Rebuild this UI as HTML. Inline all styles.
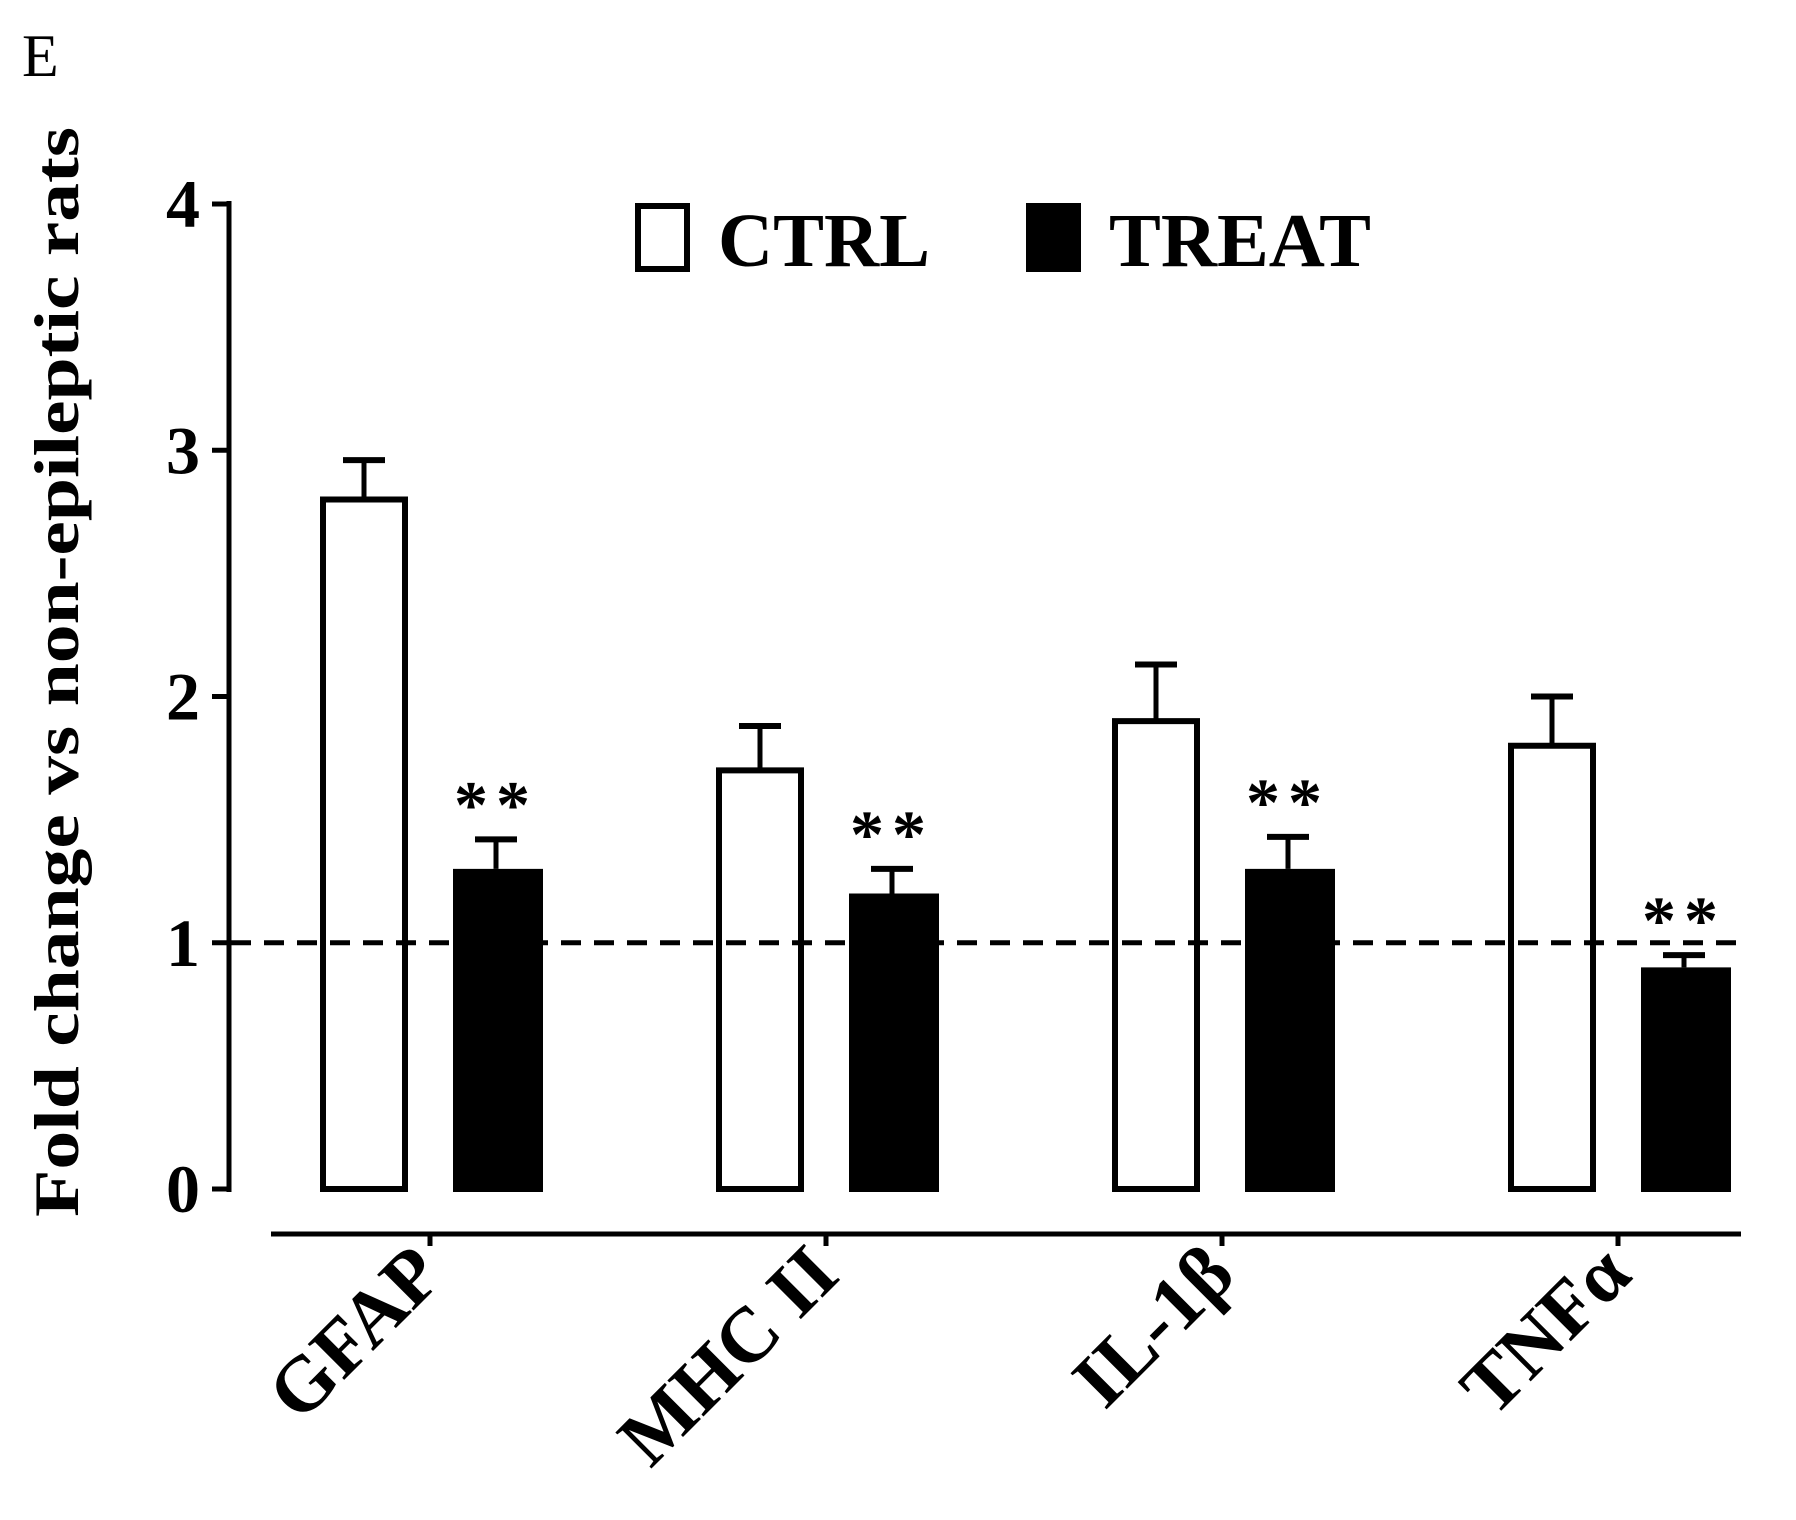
<!DOCTYPE html>
<html><head><meta charset="utf-8"><style>
html,body{margin:0;padding:0;background:#fff;}
svg{display:block;font-family:"Liberation Serif",serif;}
</style></head><body>
<svg id="chart" width="1796" height="1520" viewBox="0 0 1796 1520">
<text x="22" y="76" font-size="60">E</text>
<text transform="translate(78,672) rotate(-90)" text-anchor="middle" font-size="64" font-weight="bold" textLength="1090" lengthAdjust="spacingAndGlyphs">Fold change vs non-epileptic rats</text>
<g>
<rect x="638" y="206" width="49" height="63" fill="#fff" stroke="#000" stroke-width="6"/>
<text x="718" y="266" font-size="76" font-weight="bold" textLength="212" lengthAdjust="spacingAndGlyphs">CTRL</text>
<rect x="1026" y="203" width="55" height="69" fill="#000"/>
<text x="1109" y="266" font-size="76" font-weight="bold" textLength="262" lengthAdjust="spacingAndGlyphs">TREAT</text>
</g>
<g id="plot"></g>
</svg>
<script>
const categories = ["GFAP", "MHC II", "IL-1\u03b2", "TNF\u03b1"];
const ctrlValues = [2.8, 1.7, 1.9, 1.8];
const ctrlErrors = [0.16, 0.18, 0.23, 0.2];
const treatValues = [1.3, 1.2, 1.3, 0.9];
const treatErrors = [0.12, 0.1, 0.13, 0.05];
const yTicks = [0, 1, 2, 3, 4];
const refLine = 1;

const NS = "http://www.w3.org/2000/svg";
const plot = document.getElementById("plot");
const y0 = 1189, yTop = 204, yMax = 4;
const yScale = v => y0 - (v / yMax) * (y0 - yTop);
const xScale = i => 430 + i * (1618 - 430) / (categories.length - 1);
const barW = 88, off = 66;

function mk(tag, attrs) {
  const e = document.createElementNS(NS, tag);
  for (const k in attrs) e.setAttribute(k, attrs[k]);
  plot.appendChild(e);
  return e;
}

let ax = mk("line", {x1: 229, y1: yTop - 3, x2: 229, y2: y0 + 3, stroke: "#000", "stroke-width": 5});


yTicks.forEach(t => {
  const y = yScale(t);
  const l = mk("line", {x1: 212, y1: y, x2: 231, y2: y, stroke: "#000", "stroke-width": 5});
  
  
  const tx = mk("text", {x: 200, y: y + 23, "text-anchor": "end", "font-size": 68, "font-weight": "bold"});
  tx.textContent = t;
  
  
});

let xa = mk("line", {x1: 271, y1: 1234, x2: 1741, y2: 1234, stroke: "#000", "stroke-width": 5});



categories.forEach((c, i) => {
  const cx = xScale(i);
  const tk = mk("line", {x1: cx, y1: 1234, x2: cx, y2: 1246, stroke: "#000", "stroke-width": 5});
  
  
  const lb = mk("text", {transform: `translate(${cx + 16},1278) rotate(-45)`, "text-anchor": "end", "font-size": 78, "font-weight": "bold"});
  lb.textContent = c;
  
  

  const cc = cx - off;
  const cy = yScale(ctrlValues[i]);
  const ce = yScale(ctrlValues[i] + ctrlErrors[i]);
  const el1 = mk("line", {x1: cc, y1: cy, x2: cc, y2: ce, stroke: "#000", "stroke-width": 5});
  
  
  const ec1 = mk("line", {x1: cc - 21, y1: ce, x2: cc + 21, y2: ce, stroke: "#000", "stroke-width": 6});
  
  
  const r1 = mk("rect", {x: cc - barW / 2 + 3, y: cy, width: barW - 6, height: y0 - cy, fill: "#fff", stroke: "#000", "stroke-width": 6});
  
  

  const tc = cx + off;
  const ty = yScale(treatValues[i]);
  const te = yScale(treatValues[i] + treatErrors[i]);
  const el2 = mk("line", {x1: tc, y1: ty, x2: tc, y2: te, stroke: "#000", "stroke-width": 5});
  
  
  const ec2 = mk("line", {x1: tc - 21, y1: te, x2: tc + 21, y2: te, stroke: "#000", "stroke-width": 6});
  
  
  const r2 = mk("rect", {x: tc - barW / 2 + 1, y: ty, width: barW + 2, height: y0 + 3 - ty, fill: "#000"});
  
  
  const st = mk("text", {x: tc, y: te - 12, "text-anchor": "middle", "font-size": 68, "font-weight": "bold", "letter-spacing": 8});
  st.textContent = "**";
  
  
});

const ry = yScale(refLine);
const rl = mk("line", {x1: 231, y1: ry, x2: 1741, y2: ry, stroke: "#000", "stroke-width": 5, "stroke-dasharray": "20 13"});


</script>
</body></html>
